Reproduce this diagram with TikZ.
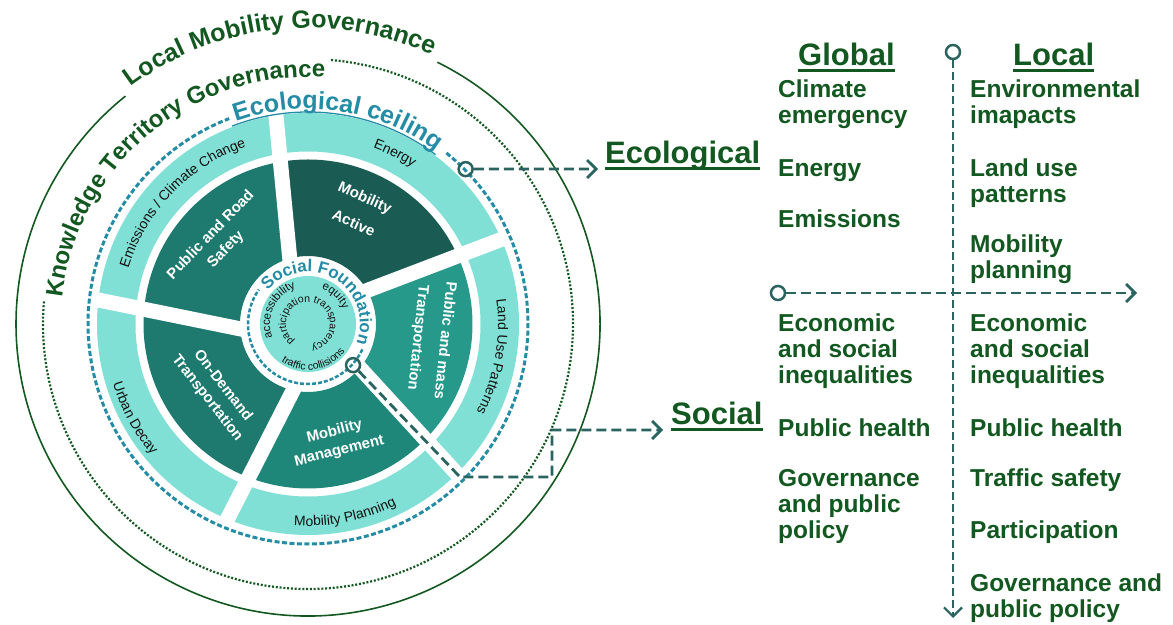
\documentclass[tikz,border=0pt]{standalone}
\usepackage{fontspec}
\setmainfont{Liberation Sans}
\usetikzlibrary{decorations.text, arrows.meta, calc}

\definecolor{tgreen}{RGB}{18,88,32}
\definecolor{lteal}{RGB}{128,224,213}
\definecolor{dA}{RGB}{26,92,84}
\definecolor{dB}{RGB}{30,122,110}
\definecolor{dM}{RGB}{31,135,122}
\definecolor{dP}{RGB}{38,153,139}
\definecolor{rblue}{RGB}{36,140,165}
\definecolor{connc}{RGB}{42,100,96}
\definecolor{ink}{RGB}{17,17,17}

\newcommand\fBig{\fontsize{25pt}{25pt}\selectfont\bfseries}
\newcommand\fKno{\fontsize{24pt}{24pt}\selectfont\bfseries}
\newcommand\fEco{\fontsize{25pt}{25pt}\selectfont\bfseries}
\newcommand\fSoc{\fontsize{17pt}{17pt}\selectfont\bfseries}
\newcommand\fRing{\fontsize{14pt}{14pt}\selectfont}
\newcommand\fIn{\fontsize{11.5pt}{11.5pt}\selectfont}
\newcommand\fInS{\fontsize{10.5pt}{10.5pt}\selectfont}
\newcommand\fSp{\fontsize{10.5pt}{10.5pt}\selectfont}

% sector: color, r_in, r_out, outer start, outer end, inner start, inner end
\newcommand\sect[7]{\fill[#1] ($(C)+(#4:#3pt)$) arc[start angle=#4, end angle=#5, radius=#3pt] -- ($(C)+(#7:#2pt)$) arc[start angle=#7, end angle=#6, radius=#2pt] -- cycle;}
\newcommand\gapline[2]{\draw[white, line width=15pt] ($(C)+(#1:64pt)$) -- ($(C)+(#2:214pt)$);}
% text on arc: font, color, radius, start, end, text
\newcommand\arctext[6]{\path[decorate, decoration={text along path, text color=#2, text={|#1|#6}, text align=center}] ($(C)+(#4:#3pt)$) arc[start angle=#4, end angle=#5, radius=#3pt];}

\begin{document}
\begin{tikzpicture}[x=1pt, y=1pt,
  seclab/.style={text=white, font=\fontsize{15pt}{20pt}\selectfont\bfseries, align=center, inner sep=0pt},
  rtext/.style={text=tgreen, font=\fontsize{24.5pt}{26pt}\selectfont\bfseries, align=left, anchor=north west, inner sep=0pt},
  headtxt/.style={text=tgreen, font=\fontsize{31pt}{31pt}\selectfont\bfseries, anchor=base west, inner sep=0pt},
  uline/.style={draw=tgreen, line width=2.6pt},
  conn/.style={draw=connc, line width=2.8pt, dash pattern=on 10pt off 5pt},
  axisln/.style={draw=connc, line width=2.2pt, dash pattern=on 8pt off 4pt},
  arrtip/.style={-{Straight Barb[length=9pt, width=18pt]}},
  ring/.style={circle, draw=connc, line width=2.5pt, minimum size=14pt, inner sep=0pt}
]
\useasboundingbox (0,0) rectangle (1173,624);
\coordinate (C) at (308,300);

% light outer ring
\fill[lteal, even odd rule] (C) circle[radius=211pt] (C) circle[radius=172.5pt];

% dark sectors
\sect{dA}{68}{164.5}{99.7}{24.5}{106.2}{30.1}
\sect{dP}{68}{164.5}{24.5}{-44.5}{30.1}{-39.8}
\sect{dM}{68}{164.5}{-44.5}{-111.1}{-39.8}{-101.7}
\sect{dB}{68}{164.5}{-111.1}{-185.1}{-101.7}{-174.9}
\sect{dB}{68}{164.5}{174.9}{99.7}{185.1}{106.2}

% white gaps
\gapline{106.2}{98.7}
\gapline{30.1}{23.6}
\gapline{-39.8}{-45.2}
\gapline{-101.7}{-112.5}
\gapline{185.1}{173.4}

% social foundation disk
\fill[lteal] (C) circle[radius=48pt];

% circles
\draw[rblue, line width=3pt, dash pattern=on 5pt off 2.5pt] ($(C)+(51:220pt)$) arc[start angle=51, end angle=-249, radius=220pt];
\draw[rblue, line width=1.3pt] ($(C)+(111:212pt)$) arc[start angle=111, end angle=53, radius=212pt];
\draw[tgreen, line width=2.2pt, dash pattern=on 2pt off 1.8pt] ($(C)+(85:265pt)$) arc[start angle=85, end angle=-185, radius=265pt];
\draw[tgreen, line width=1.6pt] ($(C)+(63.7:292pt)$) arc[start angle=63.7, end angle=-231.3, radius=292pt];
\draw[rblue, line width=2.5pt, dash pattern=on 4pt off 2pt] ($(C)+(-25:60pt)$) arc[start angle=-25, end angle=-215, radius=60pt];

% curved texts
\arctext{\fBig}{tgreen}{296}{150}{42}{Local Mobility Governance}
\arctext{\fKno}{tgreen}{247}{180}{80}{Knowledge Territory Governance}
\arctext{\fEco}{rblue}{215}{118}{45}{Ecological ceiling}
\arctext{\fSoc}{rblue}{52}{150}{-31}{Social Foundation}
\arctext{\fRing}{ink}{188}{176}{96}{Emissions / Climate Change}
\arctext{\fRing}{ink}{188}{93}{33}{Energy}
\arctext{\fRing}{ink}{190}{20}{-40}{Land Use Patterns}
\arctext{\fRing}{ink}{202}{-109}{-49}{Mobility Planning}
\arctext{\fRing}{ink}{204}{188}{229}{Urban Decay}
\arctext{\fIn}{ink}{38}{205}{105}{accessibility}
\arctext{\fIn}{ink}{38}{80}{12}{equity}
\arctext{\fInS}{ink}{46}{-135}{-27}{traffic collisions}
\arctext{\fSp}{ink}{22}{250}{-100}{participation transparency}

% sector labels
\node[seclab, rotate=-24] (sMA) at (359.5,414) {Mobility\\[8pt]Active};
\node[seclab, rotate=46] (sPR) at (218.5,381.5) {Public and Road\\[1pt]Safety};
\node[seclab, rotate=-96] (sPM) at (431,285) {Public and mass\\[7pt]Transportation};
\node[seclab, rotate=-52] (sOD) at (215,232) {On-Demand\\Transportation};
\node[seclab, rotate=14] (sMM) at (337,182.5) {Mobility\\Management};

% connectors
\node[ring] (eco0) at ($(C)+(44.5:221pt)$) {};
\coordinate (ecoT) at (598,455);
\draw[conn, arrtip] (eco0) -- (ecoT);
\node[ring] (soc0) at ($(C)+(-42.4:61pt)$) {};
\coordinate (s1) at (460,147);
\coordinate (s2) at (552,147);
\coordinate (s3) at (552,194);
\coordinate (socT) at (663,194);
\draw[conn, arrtip] (soc0) -- (s1) -- (s2) -- (s3) -- (socT);

% headings
\node[headtxt] (hEco) at (605,460) {Ecological};
\draw[uline] ([yshift=-4.5pt]hEco.base west) -- ([yshift=-4.5pt]hEco.base east);
\node[headtxt] (hSoc) at (671,199) {Social};
\draw[uline] ([yshift=-4.5pt]hSoc.base west) -- ([yshift=-4.5pt]hSoc.base east);
\node[headtxt] (hGlob) at (798,558) {Global};
\draw[uline] ([yshift=-4.5pt]hGlob.base west) -- ([yshift=-4.5pt]hGlob.base east);
\node[headtxt] (hLoc) at (1013,558) {Local};
\draw[uline] ([yshift=-4.5pt]hLoc.base west) -- ([yshift=-4.5pt]hLoc.base east);

% axes
\node[ring] (vax0) at (953,572) {};
\coordinate (vaxT) at (953,6);
\draw[axisln, arrtip] (vax0) -- (vaxT);
\node[ring] (hax0) at (778,331) {};
\coordinate (haxT) at (1137,331);
\draw[conn, arrtip] (hax0) -- (haxT);

% right texts
\node[rtext] (gl1) at (778,544) {Climate\\emergency};
\node[rtext] (gl2) at (778,465) {Energy};
\node[rtext] (gl3) at (778,414) {Emissions};
\node[rtext] (gl4) at (778,310) {Economic\\and social\\inequalities};
\node[rtext] (gl5) at (778,205) {Public health};
\node[rtext] (gl6) at (778,155) {Governance\\and public\\policy};
\node[rtext] (lo1) at (970,544) {Environmental\\imapacts};
\node[rtext] (lo2) at (970,465) {Land use\\patterns};
\node[rtext] (lo3) at (970,389) {Mobility\\planning};
\node[rtext] (lo4) at (970,310) {Economic\\and social\\inequalities};
\node[rtext] (lo5) at (970,205) {Public health};
\node[rtext] (lo6) at (970,155) {Traffic safety};
\node[rtext] (lo7) at (970,103) {Participation};
\node[rtext] (lo8) at (970,50) {Governance and\\public policy};
\end{tikzpicture}
\end{document}
